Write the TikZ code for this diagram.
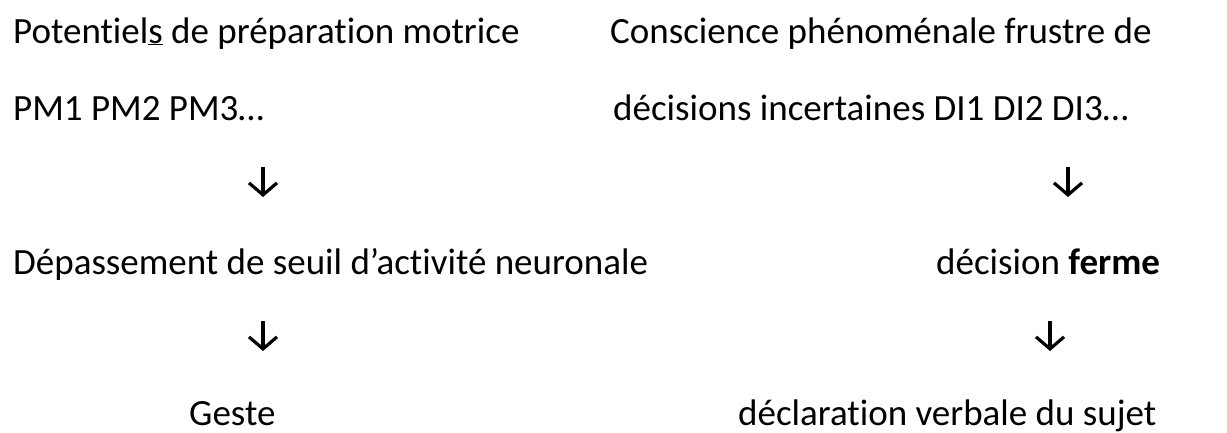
\documentclass[tikz,border=0pt]{standalone}
\usepackage{fontspec}
\setmainfont[Ligatures=NoCommon]{Carlito}
\usetikzlibrary{arrows.meta}
\tikzset{
  txt/.style={anchor=base west,inner sep=0pt,font=\fontsize{37}{44}\selectfont},
  flow/.style={line width=3.2pt,-{Straight Barb[length=12pt,width=28pt,line width=3.2pt]}}
}
\begin{document}
\begin{tikzpicture}[x=1pt,y=-1pt]
\useasboundingbox (0,0) rectangle (1227,432);
% left column
\node[txt] (pot) at (13,43) {Potentiel\underline{s} de préparation motrice};
\node[txt] (pm) at (13,120) {PM1 PM2 PM3…};
\node[txt] (seuil) at (13,274) {Dépassement de seuil d’activité neuronale};
\node[txt] (geste) at (189,425) {Geste};
% right column
\node[txt] (consc) at (610,43) {Conscience phénoménale frustre de};
\node[txt] (di) at (613,120) {décisions incertaines DI1 DI2 DI3…};
\node[txt] (ferme) at (936,274) {décision \textbf{ferme}};
\node[txt] (decl) at (738,425) {déclaration verbale du sujet};
% arrows
\coordinate (a1) at (263,167); \coordinate (b1) at (263,197);
\coordinate (a2) at (1068,167); \coordinate (b2) at (1068,197);
\coordinate (a3) at (263,321); \coordinate (b3) at (263,351);
\coordinate (a4) at (1050,321); \coordinate (b4) at (1050,351);
\foreach \n in {1,...,4}
  \draw[flow] (a\n) -- (b\n);
\end{tikzpicture}
\end{document}
